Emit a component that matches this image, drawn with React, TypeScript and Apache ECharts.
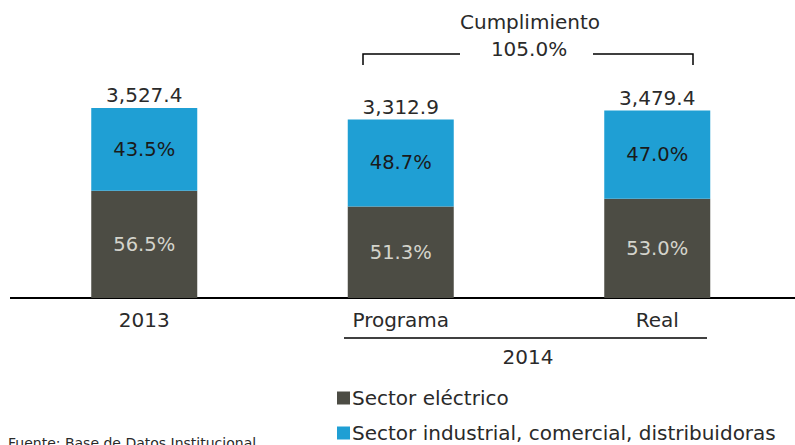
import React, { useEffect, useRef } from "react";
import * as echarts from "echarts";

const categories = ["2013", "Programa", "Real"];
const totals = [3527.4, 3312.9, 3479.4];
const pctElectrico = [56.5, 51.3, 53.0];
const pctIndustrial = [43.5, 48.7, 47.0];
const seriesNames = ["Sector eléctrico", "Sector industrial, comercial, distribuidoras"];
const cumplimiento = "105.0%";

const FONT = "DejaVu Sans";
const DARK = "#4c4c44";
const BLUE = "#1f9fd4";
const TXT = "#2a2a2a";

export default function App() {
  const ref = useRef<HTMLDivElement>(null);
  useEffect(() => {
    const chart = echarts.init(ref.current!, null, { renderer: "svg" });
    const elec = totals.map((t, i) => (t * pctElectrico[i]) / 100);
    const ind = totals.map((t, i) => (t * pctIndustrial[i]) / 100);
    const legendText = { fontSize: 20, color: TXT, fontFamily: FONT, padding: [0, 0, 0, -3] };
    chart.setOption({
      animation: false,
      textStyle: { fontFamily: FONT },
      grid: { left: 16, right: 9.5, top: 82.5, bottom: 147, containLabel: false },
      xAxis: {
        type: "category",
        data: categories,
        axisLine: { show: false },
        axisTick: { show: false },
        axisLabel: { fontSize: 20, color: TXT, margin: 12, fontFamily: FONT },
      },
      yAxis: { type: "value", min: 0, max: 4000, show: false, splitLine: { show: false } },
      legend: [
        {
          left: 332,
          top: 383,
          itemWidth: 13,
          itemHeight: 13,
          icon: "rect",
          data: [seriesNames[0]],
          textStyle: legendText,
        },
        {
          left: 332,
          top: 418,
          itemWidth: 13,
          itemHeight: 13,
          icon: "rect",
          data: [seriesNames[1]],
          textStyle: legendText,
        },
      ],
      series: [
        {
          name: seriesNames[0],
          type: "bar",
          stack: "s",
          barWidth: 106,
          data: elec,
          itemStyle: { color: DARK },
          label: {
            show: true,
            position: "inside",
            fontSize: 19.5,
            color: "#d4d4cc",
            fontFamily: FONT,
            formatter: (p: any) => pctElectrico[p.dataIndex].toFixed(1) + "%",
          },
        },
        {
          name: seriesNames[1],
          type: "bar",
          stack: "s",
          barWidth: 106,
          data: ind,
          itemStyle: { color: BLUE },
          label: {
            show: true,
            position: "inside",
            fontSize: 19.5,
            color: "#1a1a1a",
            fontFamily: FONT,
            formatter: (p: any) => pctIndustrial[p.dataIndex].toFixed(1) + "%",
          },
        },
        {
          name: "total",
          type: "bar",
          stack: "s",
          barWidth: 106,
          data: totals.map(() => 0),
          itemStyle: { color: "transparent" },
          label: {
            show: true,
            position: "top",
            distance: 3,
            fontSize: 20,
            color: TXT,
            fontFamily: FONT,
            formatter: (p: any) =>
              totals[p.dataIndex].toLocaleString("en-US", { minimumFractionDigits: 1, maximumFractionDigits: 1 }),
          },
        },
      ],
      graphic: [
        { type: "line", shape: { x1: 10, y1: 298, x2: 795, y2: 298 }, style: { stroke: "#000", lineWidth: 2 } },
        { type: "line", shape: { x1: 344, y1: 338, x2: 707, y2: 338 }, style: { stroke: "#000", lineWidth: 1.5 } },
        {
          type: "text",
          x: 528,
          y: 357,
          style: { text: "2014", fontSize: 20, fill: TXT, fontFamily: FONT, align: "center", verticalAlign: "middle" },
        },
        {
          type: "text",
          x: 530,
          y: 22,
          style: { text: "Cumplimiento", fontSize: 20, fill: TXT, fontFamily: FONT, align: "center", verticalAlign: "middle" },
        },
        {
          type: "text",
          x: 529,
          y: 49,
          style: { text: cumplimiento, fontSize: 20, fill: TXT, fontFamily: FONT, align: "center", verticalAlign: "middle" },
        },
        {
          type: "polyline",
          shape: { points: [[363, 65], [363, 54], [460, 54]] },
          style: { stroke: "#000", lineWidth: 1.5, fill: "none" },
        },
        {
          type: "polyline",
          shape: { points: [[593, 54], [693, 54], [693, 65]] },
          style: { stroke: "#000", lineWidth: 1.5, fill: "none" },
        },
        {
          type: "text",
          x: 8,
          y: 436,
          style: { text: "Fuente: Base de Datos Institucional", fontSize: 14, fill: TXT, fontFamily: FONT },
        },
      ],
    });
    return () => chart.dispose();
  }, []);
  return <div ref={ref} style={{ width: 795, height: 445, position: "fixed", left: 0, top: 0, background: "#fff" }} />;
}
